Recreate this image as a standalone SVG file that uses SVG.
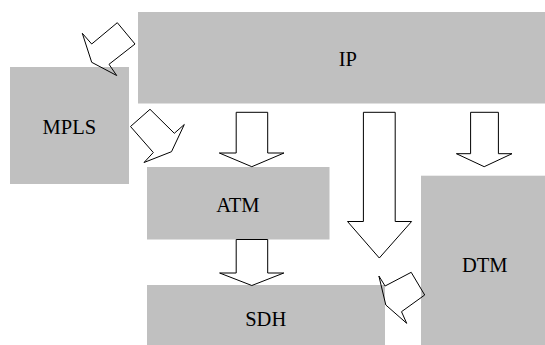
<svg xmlns="http://www.w3.org/2000/svg" width="545" height="345" viewBox="0 0 545 345">
<style>
.box{fill:#c0c0c0;stroke:none}
.lbl{font-family:"Liberation Serif","Times New Roman",serif;font-size:20.5px;fill:#000;text-anchor:middle}
.arr{fill:none;stroke:#000;stroke-width:1;stroke-linejoin:miter}
</style>
<rect width="545" height="345" fill="#fff"/>
<g id="IP"><rect class="box" x="138" y="12" width="407" height="91.5"/><text class="lbl" x="347.8" y="66">IP</text></g>
<g id="MPLS"><rect class="box" x="10" y="67" width="119" height="117"/><text class="lbl" x="69.3" y="134">MPLS</text></g>
<g id="ATM"><rect class="box" x="147" y="167" width="182.5" height="72.5"/><text class="lbl" x="237.8" y="212.3">ATM</text></g>
<g id="SDH"><rect class="box" x="147" y="285" width="238" height="60"/><text class="lbl" x="265.7" y="326">SDH</text></g>
<g id="DTM"><rect class="box" x="421" y="175.7" width="124" height="169.3"/><text class="lbl" x="484.7" y="271.7">DTM</text></g>
<g id="connectors">
<polygon class="arr" points="117.3,22.7 135,44 109,64.3 116.7,75.5 91.7,62.3 82.3,33.3 91.7,44"/>
<polygon class="arr" points="150,109.3 174.3,133.3 184.3,124.5 171.5,151.7 144,162.5 153.3,152.5 130.5,126.5"/>
<polygon class="arr" points="236.2,112.3 267.7,112.3 267.7,153 284,153 251.8,166.7 219.3,153 236.2,153"/>
<polygon class="arr" points="363.4,112.3 395.2,112.3 395.2,221.5 411.6,221.5 379.3,258 347.5,221.5 363.4,221.5"/>
<polygon class="arr" points="470.6,112.3 498.4,112.3 498.4,153.7 512,153.7 484.2,166.7 456.4,153.7 470.6,153.7"/>
<polygon class="arr" points="236.2,239.5 267.7,239.5 267.7,273 283.8,273 251.8,285.5 219.6,273 236.2,273"/>
<polygon class="arr" points="411.2,272.3 424.7,295 401.5,311.7 406.7,323.3 385.8,305 378.9,276 385.1,286"/>
</g>
</svg>
